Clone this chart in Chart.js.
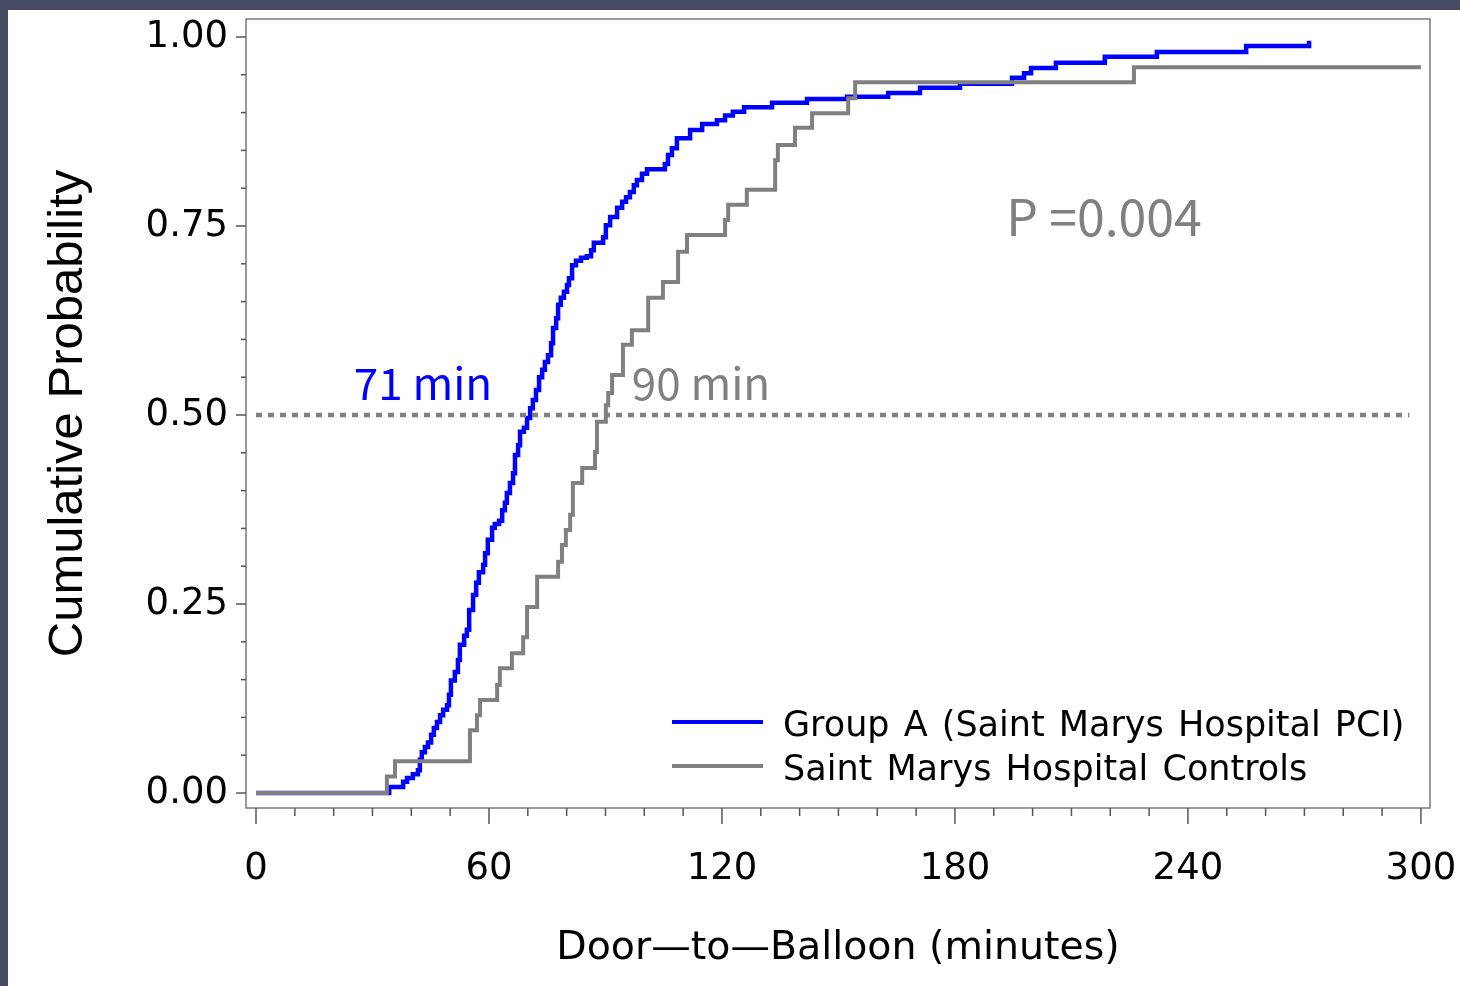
<!DOCTYPE html>
<html>
<head>
<meta charset="utf-8">
<script src="https://cdn.jsdelivr.net/npm/chart.js@4.4.0/dist/chart.umd.min.js"></script>
<style>
  html, body { margin: 0; padding: 0; background: #474b63; }
  #wrap { width: 1460px; height: 986px; }
</style>
</head>
<body>
<div id="wrap"><canvas id="cdfChart" width="1460" height="986"></canvas></div>
<script>
// tiempos puerta-balon (min) y probabilidad acumulada
const grupoA_min = [0, 34.3, 37.9, 38.9, 40.4, 41.7, 42.2, 42.7, 43.5, 44.3, 45.1, 45.8, 46.6, 47.4, 48.2, 49.2, 49.7, 50.2, 51.2, 52.0,
  52.5, 53.6, 54.3, 54.9, 55.9, 56.7, 57.4, 58.5, 59.0, 59.7, 60.8, 61.5, 62.6, 63.4, 64.1, 64.6, 65.4, 66.2, 66.7, 67.5,
  68.0, 69.0, 69.8, 70.6, 71.3, 72.1, 72.9, 73.7, 74.4, 75.2, 76.0, 76.5, 77.3, 77.8, 78.5, 79.3, 80.1, 80.6, 81.4, 82.4,
  83.7, 85.2, 86.3, 87.0, 89.4, 90.1, 91.2, 93.0, 94.3, 95.3, 96.3, 97.3, 98.1, 99.4, 100.7, 105.3, 106.1, 107.1, 108.4, 111.8,
  114.9, 118.7, 120.8, 122.8, 125.7, 132.9, 141.9, 152.2, 162.8, 171.0, 181.3, 194.7, 197.8, 199.6, 206.0, 218.6, 232.0, 255.0, 271.2];
const grupoA_prob = [0, .008, .015, .020, .025, .030, .044, .054, .061, .067, .077, .086, .094, .103, .110, .116, .130, .149, .160, .176,
  .196, .208, .216, .242, .262, .278, .292, .302, .317, .335, .351, .356, .360, .374, .384, .397, .410, .423, .447, .460,
  .478, .483, .496, .509, .520, .533, .550, .560, .570, .579, .595, .615, .628, .646, .655, .663, .672, .681, .698, .704,
  .708, .710, .718, .728, .735, .751, .762, .774, .782, .788, .795, .804, .811, .819, .825, .832, .844, .853, .866, .877,
  .885, .890, .896, .901, .907, .913, .918, .921, .926, .933, .938, .946, .952, .959, .966, .974, .980, .988, .995];

const controles_min = [0, 33.7, 35.8, 55.1, 56.9, 57.7, 62.1, 62.8, 65.9, 68.8, 69.8, 72.4, 77.8, 78.8, 79.8, 80.9, 81.6, 84.0, 87.3, 87.8,
  90.1, 90.7, 91.7, 94.5, 96.8, 101.0, 104.8, 108.7, 111.0, 120.8, 121.6, 126.4, 133.7, 134.4, 138.8, 143.2, 152.5, 154.3, 226.1, 300];
const controles_prob = [0, .022, .042, .083, .103, .123, .143, .165, .185, .206, .246, .286, .306, .328, .348, .368, .410, .430, .451, .491,
  .513, .529, .553, .593, .612, .655, .676, .716, .738, .758, .778, .798, .837, .857, .880, .899, .919, .940, .960, .960];

const mediana_min = [0, 297];
const mediana_prob = [0.5, 0.5];

const xTicks = [0, 10, 20, 30, 40, 50, 60, 70, 80, 90, 100, 110, 120, 130, 140, 150, 160, 170, 180, 190, 200,
  210, 220, 230, 240, 250, 260, 270, 280, 290, 300];
const xMajor = [0, 60, 120, 180, 240, 300];
const yTicks = [0, 0.05, 0.1, 0.15, 0.2, 0.25, 0.3, 0.35, 0.4, 0.45, 0.5, 0.55, 0.6, 0.65, 0.7, 0.75, 0.8, 0.85, 0.9, 0.95, 1];
const yMajor = [0, 0.25, 0.5, 0.75, 1];

const toPts = (xs, ys) => xs.map((v, i) => ({ x: v, y: ys[i] }));

// textos sobre el grafico
const notas = [
  { text: '71 min', x: 43, y: 0.542, color: '#0000ff', size: 44 },
  { text: '90 min', x: 114.6, y: 0.542, color: '#808080', size: 44 },
  { text: 'P =0.004', x: 218.4, y: 0.762, color: '#808080', size: 50 }
];

const marcoPlugin = {
  id: 'marco',
  beforeDraw(chart) {
    const ctx = chart.ctx;
    ctx.save();
    ctx.fillStyle = '#474b63';
    ctx.fillRect(0, 0, chart.width, chart.height);
    ctx.fillStyle = '#ffffff';
    ctx.fillRect(8, 10, chart.width - 8, chart.height - 10);
    ctx.restore();
  },
  afterDraw(chart) {
    const { ctx, chartArea: a, scales: { x, y } } = chart;
    ctx.save();
    // marco del area
    ctx.strokeStyle = '#7a7a7a';
    ctx.lineWidth = 1.5;
    ctx.strokeRect(a.left, a.top, a.right - a.left, a.bottom - a.top);
    // marcas de los ejes
    ctx.strokeStyle = '#555555';
    ctx.lineWidth = 1.5;
    x.ticks.forEach(t => {
      const px = x.getPixelForValue(t.value);
      const len = xMajor.includes(t.value) ? 16 : 8;
      ctx.beginPath(); ctx.moveTo(px, a.bottom); ctx.lineTo(px, a.bottom + len); ctx.stroke();
    });
    y.ticks.forEach(t => {
      const py = y.getPixelForValue(t.value);
      const len = yMajor.includes(t.value) ? 10 : 5;
      ctx.beginPath(); ctx.moveTo(a.left, py); ctx.lineTo(a.left - len, py); ctx.stroke();
    });
    // leyenda
    const items = [chart.data.datasets[2], chart.data.datasets[1]];
    ctx.font = '35px "DejaVu Sans"';
    ctx.textBaseline = 'middle';
    ctx.textAlign = 'left';
    if ('wordSpacing' in ctx) ctx.wordSpacing = '3px';
    items.forEach((ds, i) => {
      const ly = 722 + i * 44;
      ctx.strokeStyle = ds.borderColor;
      ctx.lineWidth = 4;
      ctx.beginPath(); ctx.moveTo(672, ly); ctx.lineTo(763, ly); ctx.stroke();
      ctx.fillStyle = '#000';
      ctx.fillText(ds.label, 783, ly + 5);
    });
    if ('wordSpacing' in ctx) ctx.wordSpacing = '0px';
    // anotaciones
    ctx.textAlign = 'center';
    notas.forEach(n => {
      ctx.font = n.size + 'px "Noto Sans CJK KR", "Noto Sans", sans-serif';
      ctx.fillStyle = n.color;
      ctx.fillText(n.text, x.getPixelForValue(n.x), y.getPixelForValue(n.y));
    });
    ctx.restore();
  }
};

const ctx = document.getElementById('cdfChart').getContext('2d');
new Chart(ctx, {
  type: 'line',
  data: {
    datasets: [{
      label: 'Mediana',
      data: toPts(mediana_min, mediana_prob),
      borderColor: '#808080',
      borderWidth: 4.5,
      borderDash: [6, 6],
      pointRadius: 0
    }, {
      label: 'Saint Marys Hospital Controls',
      data: toPts(controles_min, controles_prob),
      borderColor: '#808080',
      borderWidth: 4,
      stepped: 'before',
      pointRadius: 0
    }, {
      label: 'Group A (Saint Marys Hospital PCI)',
      data: toPts(grupoA_min, grupoA_prob),
      borderColor: '#0000ff',
      borderWidth: 4.5,
      stepped: 'before',
      pointRadius: 0
    }]
  },
  options: {
    responsive: false,
    devicePixelRatio: 1,
    animation: false,
    layout: { padding: { top: 19, right: 30, left: 0, bottom: 0 } },
    plugins: {
      legend: { display: false },
      tooltip: { enabled: false }
    },
    scales: {
      x: {
        type: 'linear',
        min: -2.575,
        max: 302.34,
        afterBuildTicks: s => { s.ticks = xTicks.map(v => ({ value: v })); },
        afterFit: s => { s.height = 178; s.paddingLeft = 0; s.paddingRight = 0; },
        grid: { display: false, drawTicks: false },
        border: { display: false },
        ticks: {
          autoSkip: false,
          maxRotation: 0,
          padding: 39,
          color: '#000',
          font: { family: 'DejaVu Sans', size: 37 },
          callback: v => xMajor.includes(v) ? String(v) : ''
        },
        title: {
          display: true,
          text: 'Door—to—Balloon (minutes)',
          color: '#000',
          font: { family: 'DejaVu Sans', size: 39.5, lineHeight: 1 },
          padding: { top: 0, bottom: 18 }
        }
      },
      y: {
        type: 'linear',
        min: -0.0198,
        max: 1.0238,
        afterBuildTicks: s => { s.ticks = yTicks.map(v => ({ value: v })); },
        afterFit: s => { s.width = 246; s.paddingTop = 0; s.paddingBottom = 0; },
        grid: { display: false, drawTicks: false },
        border: { display: false },
        ticks: {
          autoSkip: false,
          padding: 18,
          color: '#000',
          font: { family: 'DejaVu Sans', size: 37 },
          callback: v => yMajor.includes(v) ? v.toFixed(2) : ''
        },
        title: {
          display: true,
          text: 'Cumulative Probability',
          color: '#000',
          font: { family: 'Liberation Sans', size: 49, lineHeight: 1 },
          padding: { top: 43.5, bottom: 0 }
        }
      }
    }
  },
  plugins: [marcoPlugin]
});
</script>
</body>
</html>
